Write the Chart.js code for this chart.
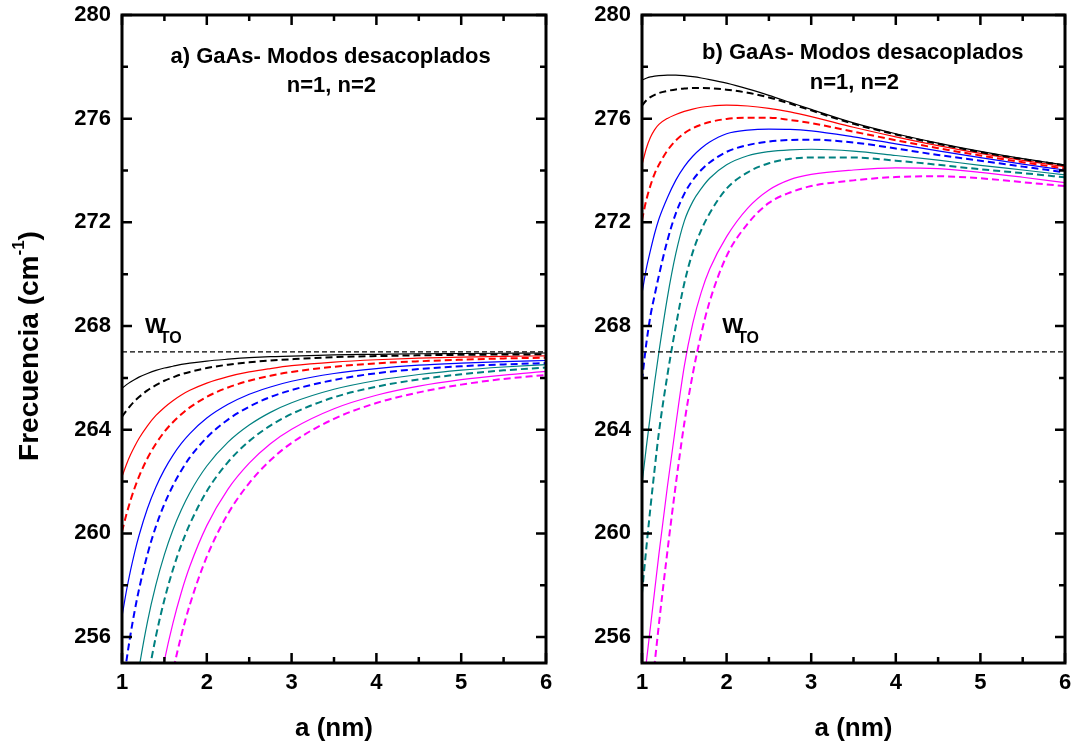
<!DOCTYPE html>
<html>
<head>
<meta charset="utf-8">
<title>GaAs - Modos desacoplados</title>
<script src="https://cdn.jsdelivr.net/npm/chart.js@4.4.1/dist/chart.umd.min.js"></script>
<style>
  html, body { margin: 0; padding: 0; background: #ffffff; }
  #wrap { position: relative; width: 1073px; height: 748px; }
  #wrap canvas { position: absolute; left: 0; top: 0; }
</style>
</head>
<body>
<div id="wrap">
  <canvas id="panelA" width="1073" height="748"></canvas>
  <canvas id="panelB" width="1073" height="748"></canvas>
</div>
<script>
// well width a (nm), shared by every curve
const aValues = [1, 1.05, 1.1, 1.15, 1.2, 1.3, 1.4, 1.5, 1.6, 1.7, 1.8, 2, 2.25, 2.5, 2.75, 3, 3.5, 4, 4.5, 5, 5.5, 6];

const omegaTO = 267;
const yTickValues = [256, 260, 264, 268, 272, 276, 280];
const yMinorValues = [258, 262, 266, 270, 274, 278];
const xTickValues = [1, 2, 3, 4, 5, 6];
const xMinorValues = [1.5, 2.5, 3.5, 4.5, 5.5];

// panel a) frequencies (cm-1)
const aBlack     = [265.60, 265.73, 265.84, 265.94, 266.03, 266.17, 266.29, 266.38, 266.45, 266.52, 266.57, 266.65, 266.72, 266.78, 266.82, 266.84, 266.89, 266.91, 266.93, 266.94, 266.95, 266.96];
const aBlackDash = [264.50, 264.73, 264.93, 265.11, 265.26, 265.52, 265.72, 265.89, 266.02, 266.14, 266.23, 266.38, 266.51, 266.60, 266.67, 266.72, 266.80, 266.84, 266.87, 266.89, 266.90, 266.91];
const aRed       = [262.19, 262.64, 263.03, 263.36, 263.66, 264.15, 264.55, 264.86, 265.12, 265.34, 265.52, 265.80, 266.05, 266.23, 266.36, 266.47, 266.61, 266.70, 266.76, 266.80, 266.83, 266.85];
const aRedDash   = [260.07, 260.71, 261.27, 261.76, 262.19, 262.90, 263.46, 263.92, 264.29, 264.60, 264.86, 265.27, 265.63, 265.89, 266.08, 266.23, 266.43, 266.56, 266.64, 266.70, 266.75, 266.78];
const aBlue      = [256.79, 257.74, 258.56, 259.28, 259.91, 260.96, 261.79, 262.46, 263.01, 263.47, 263.85, 264.45, 264.98, 265.37, 265.65, 265.87, 266.17, 266.36, 266.49, 266.57, 266.63, 266.67];
const aBlueDash  = [253.80, 255.03, 256.09, 257.02, 257.83, 259.19, 260.27, 261.13, 261.84, 262.43, 262.93, 263.70, 264.39, 264.89, 265.26, 265.53, 265.92, 266.18, 266.34, 266.45, 266.52, 266.57];
const aTeal      = [249.40, 251.04, 252.45, 253.69, 254.78, 256.59, 258.02, 259.18, 260.13, 260.91, 261.57, 262.60, 263.52, 264.18, 264.67, 265.04, 265.56, 265.90, 266.13, 266.30, 266.42, 266.51];
const aTealDash  = [245.50, 247.50, 249.23, 250.74, 252.07, 254.28, 256.03, 257.44, 258.60, 259.56, 260.36, 261.63, 262.75, 263.56, 264.16, 264.61, 265.25, 265.66, 265.94, 266.14, 266.29, 266.40];
const aMagenta   = [240.20, 242.69, 244.85, 246.74, 248.39, 251.14, 253.33, 255.09, 256.53, 257.73, 258.73, 260.30, 261.71, 262.71, 263.46, 264.02, 264.81, 265.33, 265.68, 265.93, 266.11, 266.25];
const aMagentaDash = [235.40, 238.34, 240.88, 243.11, 245.06, 248.30, 250.88, 252.96, 254.66, 256.07, 257.25, 259.10, 260.76, 261.94, 262.82, 263.49, 264.42, 265.03, 265.44, 265.74, 265.96, 266.11];

// panel b) frequencies (cm-1)
const bBlack     = [277.49, 277.56, 277.61, 277.64, 277.66, 277.68, 277.68, 277.66, 277.62, 277.57, 277.51, 277.37, 277.15, 276.90, 276.63, 276.36, 275.84, 275.42, 275.06, 274.74, 274.46, 274.22];
const bBlackDash = [276.50, 276.70, 276.83, 276.92, 276.99, 277.07, 277.13, 277.16, 277.18, 277.18, 277.17, 277.12, 277.00, 276.82, 276.58, 276.32, 275.80, 275.39, 275.03, 274.71, 274.44, 274.20];
const bRed       = [274.21, 274.84, 275.28, 275.58, 275.78, 276.01, 276.16, 276.28, 276.37, 276.44, 276.48, 276.52, 276.49, 276.40, 276.26, 276.08, 275.67, 275.30, 274.96, 274.66, 274.39, 274.15];
const bRedDash   = [272.09, 272.85, 273.42, 273.88, 274.22, 274.77, 275.16, 275.44, 275.63, 275.77, 275.87, 275.99, 276.04, 276.04, 275.95, 275.83, 275.50, 275.17, 274.86, 274.58, 274.32, 274.08];
const bBlue      = [269.26, 270.20, 270.92, 271.58, 272.13, 272.95, 273.63, 274.15, 274.55, 274.86, 275.10, 275.42, 275.56, 275.60, 275.59, 275.53, 275.30, 275.03, 274.76, 274.50, 274.25, 274.02];
const bBlueDash  = [265.90, 267.30, 268.40, 269.20, 269.95, 271.30, 272.35, 273.10, 273.63, 274.02, 274.31, 274.72, 274.98, 275.12, 275.18, 275.19, 275.08, 274.85, 274.60, 274.38, 274.15, 273.93];
const bTeal      = [261.90, 263.30, 264.60, 265.85, 267.00, 269.10, 270.80, 272.05, 272.80, 273.30, 273.70, 274.22, 274.57, 274.73, 274.80, 274.82, 274.75, 274.58, 274.40, 274.20, 274.02, 273.83];
const bTealDash  = [257.69, 259.40, 261.00, 262.50, 263.90, 266.10, 268.00, 269.65, 270.85, 271.70, 272.35, 273.30, 273.93, 274.28, 274.45, 274.50, 274.50, 274.38, 274.22, 274.05, 273.90, 273.74];
const bMagenta   = [253.60, 255.00, 256.40, 257.80, 259.20, 261.80, 264.20, 266.45, 268.10, 269.30, 270.20, 271.45, 272.55, 273.25, 273.65, 273.85, 274.02, 274.10, 274.07, 273.93, 273.74, 273.53];
const bMagentaDash = [250.60, 252.10, 253.60, 255.00, 256.50, 259.30, 261.90, 264.25, 266.15, 267.70, 268.95, 270.70, 271.95, 272.75, 273.15, 273.40, 273.62, 273.75, 273.78, 273.70, 273.55, 273.40];

const FONT = '"Liberation Sans", Arial, sans-serif';
const BLACK = '#000000', RED = '#ff0000', BLUE = '#0000ff', TEAL = '#008080', MAGENTA = '#ff00ff';

function curve(values, color, dashed) {
    return {
        data: values.map((v, i) => ({ x: aValues[i], y: v })),
        borderColor: color,
        borderWidth: dashed ? 2 : 1.2,
        borderDash: dashed ? [7, 4] : [],
        pointRadius: 0,
        cubicInterpolationMode: 'monotone',
        fill: false
    };
}

function omegaLine() {
    return {
        data: [{ x: 1, y: omegaTO }, { x: 6, y: omegaTO }],
        borderColor: BLACK,
        borderWidth: 1.3,
        borderDash: [5, 3],
        pointRadius: 0,
        fill: false
    };
}

// frame with inward ticks on all four sides
const frameTicks = {
    id: 'frameTicks',
    afterDatasetsDraw(chart) {
        const { ctx, chartArea: ca, scales: { x, y } } = chart;
        ctx.save();
        ctx.strokeStyle = BLACK;
        ctx.lineWidth = 2.5;
        ctx.beginPath();
        const vTick = (v, len) => {
            const px = x.getPixelForValue(v);
            ctx.moveTo(px, ca.bottom); ctx.lineTo(px, ca.bottom - len);
            ctx.moveTo(px, ca.top); ctx.lineTo(px, ca.top + len);
        };
        const hTick = (v, len) => {
            const py = y.getPixelForValue(v);
            ctx.moveTo(ca.left, py); ctx.lineTo(ca.left + len, py);
            ctx.moveTo(ca.right, py); ctx.lineTo(ca.right - len, py);
        };
        xTickValues.forEach(v => vTick(v, 10));
        xMinorValues.forEach(v => vTick(v, 6));
        yTickValues.forEach(v => hTick(v, 10));
        yMinorValues.forEach(v => hTick(v, 6));
        ctx.stroke();
        ctx.lineWidth = 3;
        ctx.strokeRect(ca.left, ca.top, ca.right - ca.left, ca.bottom - ca.top);
        ctx.restore();
    }
};

const panelText = {
    id: 'panelText',
    afterDraw(chart, args, opts) {
        const { ctx, scales: { x, y } } = chart;
        ctx.save();
        ctx.fillStyle = BLACK;
        ctx.textAlign = 'center';
        ctx.textBaseline = 'middle';
        ctx.font = `bold 22px ${FONT}`;
        ctx.fillText(opts.title, x.getPixelForValue(opts.titlePos[0]), y.getPixelForValue(opts.titlePos[1]));
        ctx.fillText('n=1, n=2', x.getPixelForValue(opts.subPos[0]), y.getPixelForValue(opts.subPos[1]));

        const wx = x.getPixelForValue(opts.omegaPos[0]);
        const wy = y.getPixelForValue(opts.omegaPos[1]);
        ctx.textAlign = 'left';
        ctx.textBaseline = 'alphabetic';
        ctx.font = `bold 22px ${FONT}`;
        ctx.fillText('W', wx, wy);
        const ww = ctx.measureText('W').width;
        ctx.font = `bold 16px ${FONT}`;
        ctx.fillText('TO', wx + ww - 6, wy + 10);

        if (opts.yTitle) {
            const main = 'Frecuencia (cm', sup = '-1', close = ')';
            ctx.translate(30, 346);
            ctx.rotate(-Math.PI / 2);
            ctx.textBaseline = 'middle';
            ctx.font = `bold 28px ${FONT}`;
            const wMain = ctx.measureText(main).width;
            const wClose = ctx.measureText(close).width;
            ctx.font = `bold 17px ${FONT}`;
            const wSup = ctx.measureText(sup).width;
            let px = -(wMain + wSup + wClose) / 2;
            ctx.font = `bold 28px ${FONT}`;
            ctx.fillText(main, px, 0);
            px += wMain;
            ctx.font = `bold 17px ${FONT}`;
            ctx.fillText(sup, px, -11);
            px += wSup;
            ctx.font = `bold 28px ${FONT}`;
            ctx.fillText(close, px, 0);
        }
        ctx.restore();
    }
};

function noScalePadding(s) {
    s.paddingTop = 0;
    s.paddingBottom = 0;
    s.paddingLeft = 0;
    s.paddingRight = 0;
}

function panelOptions(yWidth, rightPad, textOpts) {
    return {
        responsive: false,
        animation: false,
        events: [],
        layout: { padding: { left: 0, right: rightPad, top: 15, bottom: 0 } },
        plugins: {
            legend: { display: false },
            tooltip: { enabled: false },
            panelText: textOpts
        },
        scales: {
            x: {
                type: 'linear',
                min: 1,
                max: 6,
                afterBuildTicks: s => { s.ticks = xTickValues.map(v => ({ value: v })); },
                afterFit: s => { s.height = 85; noScalePadding(s); },
                grid: { display: false, drawTicks: false },
                border: { display: false },
                ticks: {
                    color: BLACK,
                    font: { family: FONT, size: 22, weight: 'bold' },
                    padding: 7,
                    maxRotation: 0,
                    autoSkip: false
                },
                title: {
                    display: true,
                    text: 'a (nm)',
                    color: BLACK,
                    font: { family: FONT, size: 26, weight: 'bold' },
                    padding: { top: 0, bottom: 4 }
                }
            },
            y: {
                type: 'linear',
                min: 255,
                max: 280,
                afterBuildTicks: s => { s.ticks = yTickValues.map(v => ({ value: v })); },
                afterFit: s => { s.width = yWidth; noScalePadding(s); },
                grid: { display: false, drawTicks: false },
                border: { display: false },
                ticks: {
                    color: BLACK,
                    font: { family: FONT, size: 22, weight: 'bold' },
                    padding: 11,
                    autoSkip: false
                }
            }
        }
    };
}

function buildDatasets(set) {
    return [
        omegaLine(),
        curve(set[0], BLACK, false), curve(set[1], BLACK, true),
        curve(set[2], RED, false), curve(set[3], RED, true),
        curve(set[4], BLUE, false), curve(set[5], BLUE, true),
        curve(set[6], TEAL, false), curve(set[7], TEAL, true),
        curve(set[8], MAGENTA, false), curve(set[9], MAGENTA, true)
    ];
}

new Chart(document.getElementById('panelA').getContext('2d'), {
    type: 'line',
    data: {
        datasets: buildDatasets([aBlack, aBlackDash, aRed, aRedDash, aBlue, aBlueDash,
            aTeal, aTealDash, aMagenta, aMagentaDash])
    },
    options: panelOptions(122, 527, {
        title: 'a) GaAs- Modos desacoplados',
        titlePos: [3.46, 278.38],
        subPos: [3.47, 277.26],
        omegaPos: [1.27, 267.73],
        yTitle: true
    }),
    plugins: [frameTicks, panelText]
});

new Chart(document.getElementById('panelB').getContext('2d'), {
    type: 'line',
    data: {
        datasets: buildDatasets([bBlack, bBlackDash, bRed, bRedDash, bBlue, bBlueDash,
            bTeal, bTealDash, bMagenta, bMagentaDash])
    },
    options: panelOptions(642, 8, {
        title: 'b) GaAs- Modos desacoplados',
        titlePos: [3.61, 278.53],
        subPos: [3.51, 277.38],
        omegaPos: [1.95, 267.73],
        yTitle: false
    }),
    plugins: [frameTicks, panelText]
});
</script>
</body>
</html>
